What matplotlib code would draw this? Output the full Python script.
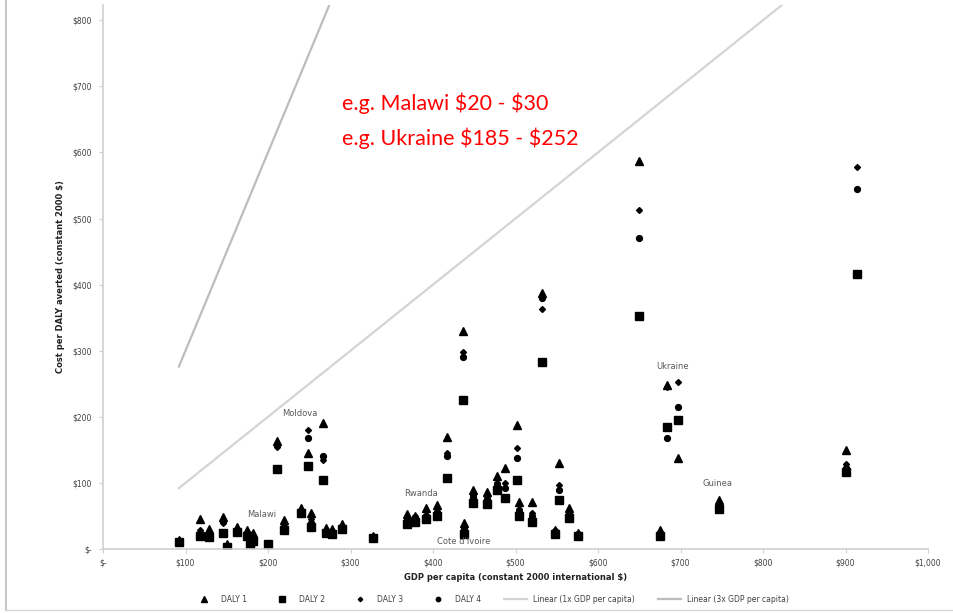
import numpy as np
import matplotlib
matplotlib.use("Agg")
import matplotlib.pyplot as plt
from matplotlib.lines import Line2D

# GDP per capita (constant 2000 international $) and cost per DALY averted for 4 DALY variants
gdp = [92, 118, 128, 145, 150, 162, 175, 178, 182, 200,
       211, 219, 240, 248, 252, 267, 270, 278, 290, 327,
       368, 378, 392, 405, 417, 436, 437, 449, 466, 477,
       487, 502, 504, 520, 532, 548, 553, 565, 576, 650,
       675, 684, 697, 747, 900, 914]
daly1 = [14, 45, 30, 48, 8, 33, 28, 18, 24, 8,
         163, 44, 62, 145, 54, 191, 32, 30, 38, 20,
         53, 50, 62, 67, 170, 330, 40, 89, 86, 110,
         122, 187, 71, 71, 388, 28, 130, 62, 24, 587,
         28, 248, 137, 74, 150, np.nan]
daly2 = [11, 20, 18, 24, 3, 25, 20, 8, 12, 8,
         121, 29, 54, 126, 33, 104, 24, 22, 30, 16,
         38, 41, 45, 50, 107, 225, 22, 70, 68, 90,
         77, 104, 50, 41, 283, 22, 74, 47, 20, 353,
         20, 185, 195, 60, 116, 416]
daly3 = [13, 28, 22, 39, 5, 28, 25, 14, 20, 8,
         154, 38, 58, 180, 45, 135, 28, 27, 35, 18,
         45, 45, 52, 58, 145, 298, 30, 82, 80, 100,
         100, 153, 60, 55, 363, 25, 97, 55, 22, 513,
         24, 245, 252, 65, 128, 578]
daly4 = [12, 24, 20, 42, 4, 27, 22, 12, 16, 8,
         158, 34, 56, 168, 40, 140, 26, 25, 33, 17,
         42, 48, 50, 55, 140, 290, 32, 78, 75, 98,
         92, 138, 57, 50, 380, 27, 90, 52, 23, 471,
         22, 168, 215, 62, 122, 545]

labels = ["Malawi", "Moldova", "Rwanda", "Cote d'Ivoire", "Ukraine", "Guinea"]
label_xy = [(192, 46), (238, 198), (385, 77), (437, 5), (690, 270), (745, 92)]

yticks = [0, 100, 200, 300, 400, 500, 600, 700, 800]
xticks = [0, 100, 200, 300, 400, 500, 600, 700, 800, 900, 1000]


def money(v):
    return "$-" if v == 0 else "${:,}".format(v)


fig = plt.figure(figsize=(9.54, 6.13), dpi=100)
ax = fig.add_axes([103 / 954, 64 / 613, 825 / 954, 544 / 613])

gray_txt = "#404040"
ax.plot(gdp, daly1, linestyle="none", marker="^", ms=5.8, color="black", label="DALY 1")
ax.plot(gdp, daly2, linestyle="none", marker="s", ms=5.8, color="black", label="DALY 2")
ax.plot(gdp, daly3, linestyle="none", marker="D", ms=3, color="black", label="DALY 3")
ax.plot(gdp, daly4, linestyle="none", marker="o", ms=4.2, color="black", label="DALY 4")

xs = np.array([min(gdp), max(gdp)])
ax.plot(xs, xs, color="#d4d4d4", lw=1.6, label="Linear (1x GDP per capita)")
ax.plot(xs, 3 * xs, color="#bdbdbd", lw=1.6, label="Linear (3x GDP per capita)")

for name, (x, y) in zip(labels, label_xy):
    ax.text(x, y, name, fontsize=6, color="#595959", ha="center", va="bottom")

ax.text(290, 675, r"e.g. Malawi \$20 - \$30", color="red", fontsize=15.5,
        family="Lato", va="center")
ax.text(290, 622, r"e.g. Ukraine \$185 - \$252", color="red", fontsize=15.5,
        family="Lato", va="center")

ax.set_xlim(0, 1000)
ax.set_ylim(0, 823)
ax.set_xticks(xticks)
ax.set_xticklabels([money(v) for v in xticks])
ax.set_yticks(yticks)
ax.set_yticklabels([money(v) for v in yticks])
ax.tick_params(axis="both", labelsize=5.5, colors="#d0d0d0", labelcolor=gray_txt,
               length=3, width=0.8)
ax.tick_params(axis="x", pad=4)
ax.tick_params(axis="y", pad=5)
for side in ["top", "right"]:
    ax.spines[side].set_visible(False)
for side in ["left", "bottom"]:
    ax.spines[side].set_color("#d0d0d0")
    ax.spines[side].set_linewidth(1.2)

ax.set_xlabel("GDP per capita (constant 2000 international $)", fontsize=6,
              fontweight="bold", color="#222222", labelpad=4)
ax.set_ylabel("Cost per DALY averted (constant 2000 $)", fontsize=6,
              fontweight="bold", color="#222222", labelpad=5)

ax.legend(loc="center", bbox_to_anchor=(0.47, -0.092), ncol=6, frameon=False,
          fontsize=5.5, labelcolor=gray_txt, handlelength=3, columnspacing=3,
          markerscale=0.75)

fig.add_artist(Line2D([6 / 954, 6 / 954], [3 / 613, 1], color="#c8c8c8", lw=1.5))
fig.add_artist(Line2D([6 / 954, 1], [3 / 613, 3 / 613], color="#d8d8d8", lw=1))

fig.savefig("out.png", dpi=100)
